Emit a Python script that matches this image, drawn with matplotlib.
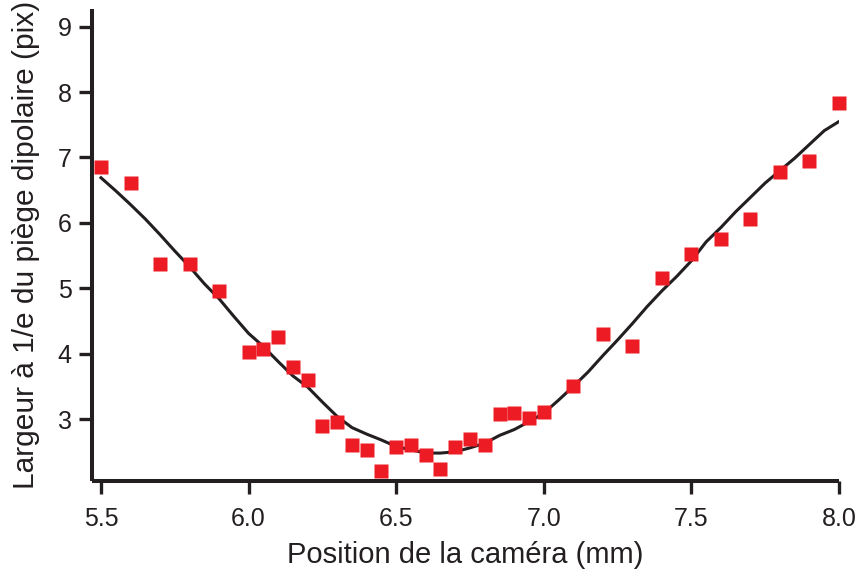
import matplotlib
matplotlib.use("Agg")
import matplotlib.pyplot as plt

plt.rcParams['font.family'] = ['Liberation Sans', 'DejaVu Sans']

# mesures (carrés rouges)
pos_mm = [5.5, 5.6, 5.7, 5.8, 5.9, 6.0, 6.05, 6.1, 6.15, 6.2, 6.25, 6.3,
          6.35, 6.4, 6.45, 6.5, 6.55, 6.6, 6.65, 6.7, 6.75, 6.8, 6.85, 6.9,
          6.95, 7.0, 7.1, 7.2, 7.3, 7.4, 7.5, 7.6, 7.7, 7.8, 7.9, 8.0]
largeur = [6.85, 6.61, 5.37, 5.37, 4.96, 4.03, 4.07, 4.25, 3.80, 3.60, 2.90, 2.95,
           2.60, 2.53, 2.21, 2.58, 2.61, 2.45, 2.24, 2.58, 2.70, 2.61, 3.07, 3.10,
           3.02, 3.11, 3.51, 4.30, 4.11, 5.16, 5.53, 5.75, 6.06, 6.78, 6.94, 7.84]

# courbe d'ajustement (lue tous les 0.05 mm)
fit_x = [5.5, 5.55, 5.6, 5.65, 5.7, 5.75, 5.8, 5.85, 5.9, 5.95,
         6.0, 6.05, 6.1, 6.15, 6.2, 6.25, 6.3, 6.35, 6.4, 6.45,
         6.5, 6.55, 6.6, 6.65, 6.7, 6.75, 6.8, 6.85, 6.9, 6.95,
         7.0, 7.05, 7.1, 7.15, 7.2, 7.25, 7.3, 7.35, 7.4, 7.45,
         7.5, 7.55, 7.6, 7.65, 7.7, 7.75, 7.8, 7.85, 7.9, 7.95, 8.0]
fit_y = [6.69, 6.49, 6.28, 6.06, 5.82, 5.57, 5.33, 5.07, 4.84, 4.57,
         4.31, 4.11, 3.88, 3.66, 3.49, 3.26, 3.04, 2.87, 2.77, 2.68,
         2.58, 2.53, 2.48, 2.48, 2.50, 2.56, 2.63, 2.75, 2.84, 2.96,
         3.09, 3.29, 3.50, 3.72, 3.97, 4.21, 4.46, 4.72, 4.96, 5.18,
         5.42, 5.71, 5.93, 6.17, 6.39, 6.61, 6.80, 6.99, 7.20, 7.41, 7.55]

dark = '#231F20'

fig = plt.figure(figsize=(8.58, 5.77), dpi=100)
ax = fig.add_axes([92 / 858, 1 - 481 / 577, 747 / 858, 471.7 / 577])

ax.plot(fit_x, fit_y, color=dark, lw=2.2, zorder=2)
ax.plot(pos_mm, largeur, ls='none', marker='s', ms=9.6, color='#ED1C24', mec='none',
        zorder=3, clip_on=False)

ax.set_xlim(5.4695, 8.0)
ax.set_ylim(2.053, 9.266)
ax.set_xticks([5.5, 6.0, 6.5, 7.0, 7.5, 8.0])
ax.set_xticklabels(['5.5', '6.0', '6.5', '7.0', '7.5', '8.0'])
ax.set_yticks([3, 4, 5, 6, 7, 8, 9])

for s in ['top', 'right']:
    ax.spines[s].set_visible(False)
for s in ['left', 'bottom']:
    ax.spines[s].set_linewidth(2.9)
    ax.spines[s].set_color(dark)
    ax.spines[s].set_capstyle('butt')

ax.tick_params(direction='out', length=9.5, width=2.4, color=dark,
               labelsize=18, labelcolor=dark)
ax.tick_params(axis='x', pad=9.5)
ax.tick_params(axis='y', pad=5)

ax.set_xlabel('Position de la caméra (mm)', fontsize=21, color=dark, labelpad=7)
ax.set_ylabel('Largeur à 1/e du piège dipolaire (pix)', fontsize=21.5, color=dark, labelpad=13)

fig.savefig('out.png', dpi=100)
